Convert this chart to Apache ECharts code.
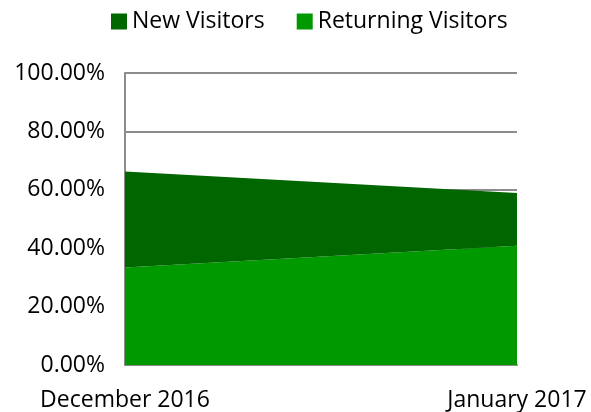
<!DOCTYPE html>
<html>
<head>
<meta charset="utf-8">
<script src="https://cdn.jsdelivr.net/npm/echarts@6/dist/echarts.min.js"></script>
<style>
    html, body { margin: 0; padding: 0; background: #fff; }
    #chart { width: 591px; height: 412px; }
</style>
</head>
<body>
<div id="chart"></div>
<script>
var months = ['December 2016', 'January 2017'];
var newVisitors = [0.329, 0.181];
var returningVisitors = [0.334, 0.408];
var yTicks = [0, 0.2, 0.4, 0.6, 0.8, 1];

var chart = echarts.init(document.getElementById('chart'), null, { renderer: 'canvas' });
var font = '"Open Sans", sans-serif';

var option = {
    animation: false,
    legend: {
        data: ['New Visitors', 'Returning Visitors'],
        left: 106,
        top: 5,
        icon: 'rect',
        itemWidth: 16,
        itemHeight: 16,
        itemGap: 32,
        textStyle: { fontFamily: font, fontSize: 23, color: '#000' }
    },
    grid: { left: 125, right: 74, top: 73, bottom: 47 },
    xAxis: {
        type: 'category',
        boundaryGap: false,
        data: months,
        axisLine: { show: true, lineStyle: { color: '#8c8c8c', width: 2 } },
        axisTick: { show: false },
        axisLabel: { fontFamily: font, fontSize: 23, color: '#000', margin: 24 }
    },
    yAxis: {
        type: 'value',
        min: yTicks[0],
        max: yTicks[yTicks.length - 1],
        interval: 0.2,
        axisLine: { show: true, lineStyle: { color: '#8c8c8c', width: 2 } },
        axisTick: { show: false },
        splitLine: { lineStyle: { color: '#8c8c8c', width: 2 } },
        axisLabel: {
            fontFamily: font, fontSize: 23, color: '#000', margin: 20,
            formatter: function (v) { return (v * 100).toFixed(2) + '%'; }
        }
    },
    series: [
        {
            name: 'Returning Visitors',
            type: 'line',
            stack: 'total',
            data: returningVisitors,
            symbol: 'none',
            itemStyle: { color: '#009900' },
            lineStyle: { width: 0 },
            areaStyle: { color: '#009900', opacity: 1 }
        },
        {
            name: 'New Visitors',
            type: 'line',
            stack: 'total',
            data: newVisitors,
            symbol: 'none',
            itemStyle: { color: '#006600' },
            lineStyle: { width: 0 },
            areaStyle: { color: '#006600', opacity: 1 }
        }
    ]
};

chart.setOption(option);
</script>
</body>
</html>
